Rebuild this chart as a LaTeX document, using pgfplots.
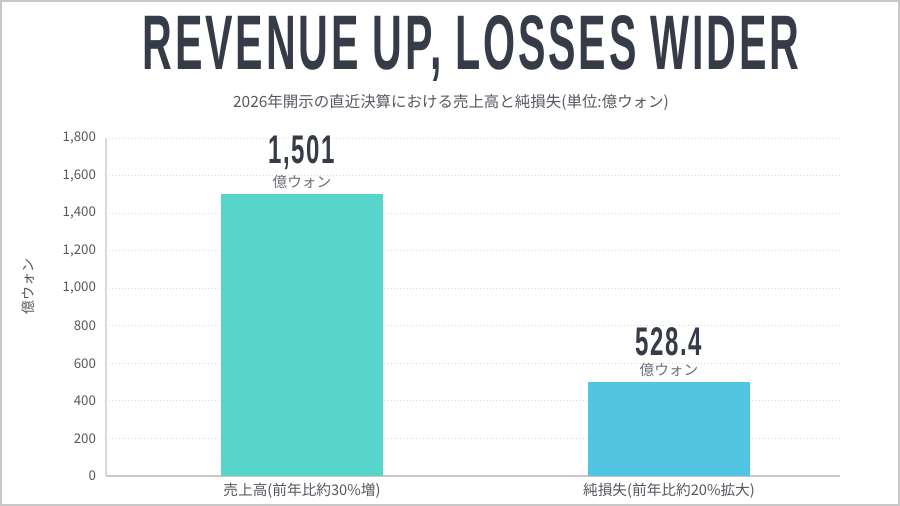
\documentclass[border=0pt]{standalone}
\usepackage{pgfplots}
\pgfplotsset{compat=1.18}
\usepackage{fontspec}
\setmainfont{Noto Sans CJK JP}
\newfontfamily\condfont[FakeStretch=0.6, LetterSpace=4]{Liberation Sans}

\definecolor{titlecol}{HTML}{363B48}
\definecolor{tickcol}{HTML}{55595F}
\definecolor{unitcol}{HTML}{6B6F76}
\definecolor{revcol}{HTML}{58D5CB}
\definecolor{losscol}{HTML}{52C5E3}
\definecolor{gridcol}{HTML}{DCDCDC}
\definecolor{framecol}{HTML}{C8C8C8}

% value label: big condensed number with the unit below
\newcommand{\vallabel}[1]{{\fontsize{30}{30}\condfont\bfseries\color{titlecol}#1}\\[3pt]{\fontsize{11}{12}\selectfont\color{unitcol}億ウォン}}

\begin{document}
\begin{tikzpicture}[x=0.75pt,y=0.75pt]
\useasboundingbox (0,0) rectangle (900,506);
\fill[white] (0,0) rectangle (900,506);
\draw[framecol, line width=1.2pt] (0.8,0.8) rectangle (899.2,505.2);

% title and subtitle
\node[anchor=base, inner sep=0, text=titlecol] at (471,436)
  {\resizebox{492pt}{40.5pt}{\condfont\bfseries REVENUE UP, LOSSES WIDER}};
\node[anchor=base, inner sep=0, text=tickcol] at (451,398)
  {\fontsize{11.6}{13}\selectfont 2026年開示の直近決算における売上高と純損失(単位:億ウォン)};

\begin{axis}[
    at={(79.5pt,22.5pt)}, anchor=south west,
    scale only axis,
    width=550.5pt, height=253.5pt,
    ybar, bar width=121.5pt,
    xmin=-0.534, xmax=1.466,
    ymin=0, ymax=1800,
    ytick={0,200,...,1800},
    xtick={0,1},
    xticklabels={売上高(前年比約30\%増), 純損失(前年比約20\%拡大)},
    axis x line*=bottom, axis y line*=left,
    x axis line style={draw=black!22, line width=0.8pt},
    y axis line style={draw=black!15, line width=0.8pt},
    ymajorgrids,
    grid style={gridcol, dotted, line width=0.7pt},
    major tick length=0pt,
    /pgf/number format/assume math mode=true,
    /pgf/number format/1000 sep={,},
    yticklabel style={font=\fontsize{10}{12}\selectfont, text=tickcol, xshift=-4pt},
    xticklabel style={font=\fontsize{11}{13}\selectfont, text=tickcol, yshift=-2pt},
    ylabel={億ウォン},
    ylabel style={font=\fontsize{10.5}{12}\selectfont, text=tickcol,
                  at={(axis description cs:-0.106,0.56)}, anchor=center},
    every node near coord/.style={anchor=south, align=center, inner sep=0pt, yshift=4pt},
]
\addplot[fill=revcol, draw=none, bar shift=0pt,
         nodes near coords={\vallabel{1,501}}] coordinates {(0,1501)};
\addplot[fill=losscol, draw=none, bar shift=0pt,
         nodes near coords={\vallabel{528.4}}] coordinates {(1,501)};
\end{axis}
\end{tikzpicture}
\end{document}
